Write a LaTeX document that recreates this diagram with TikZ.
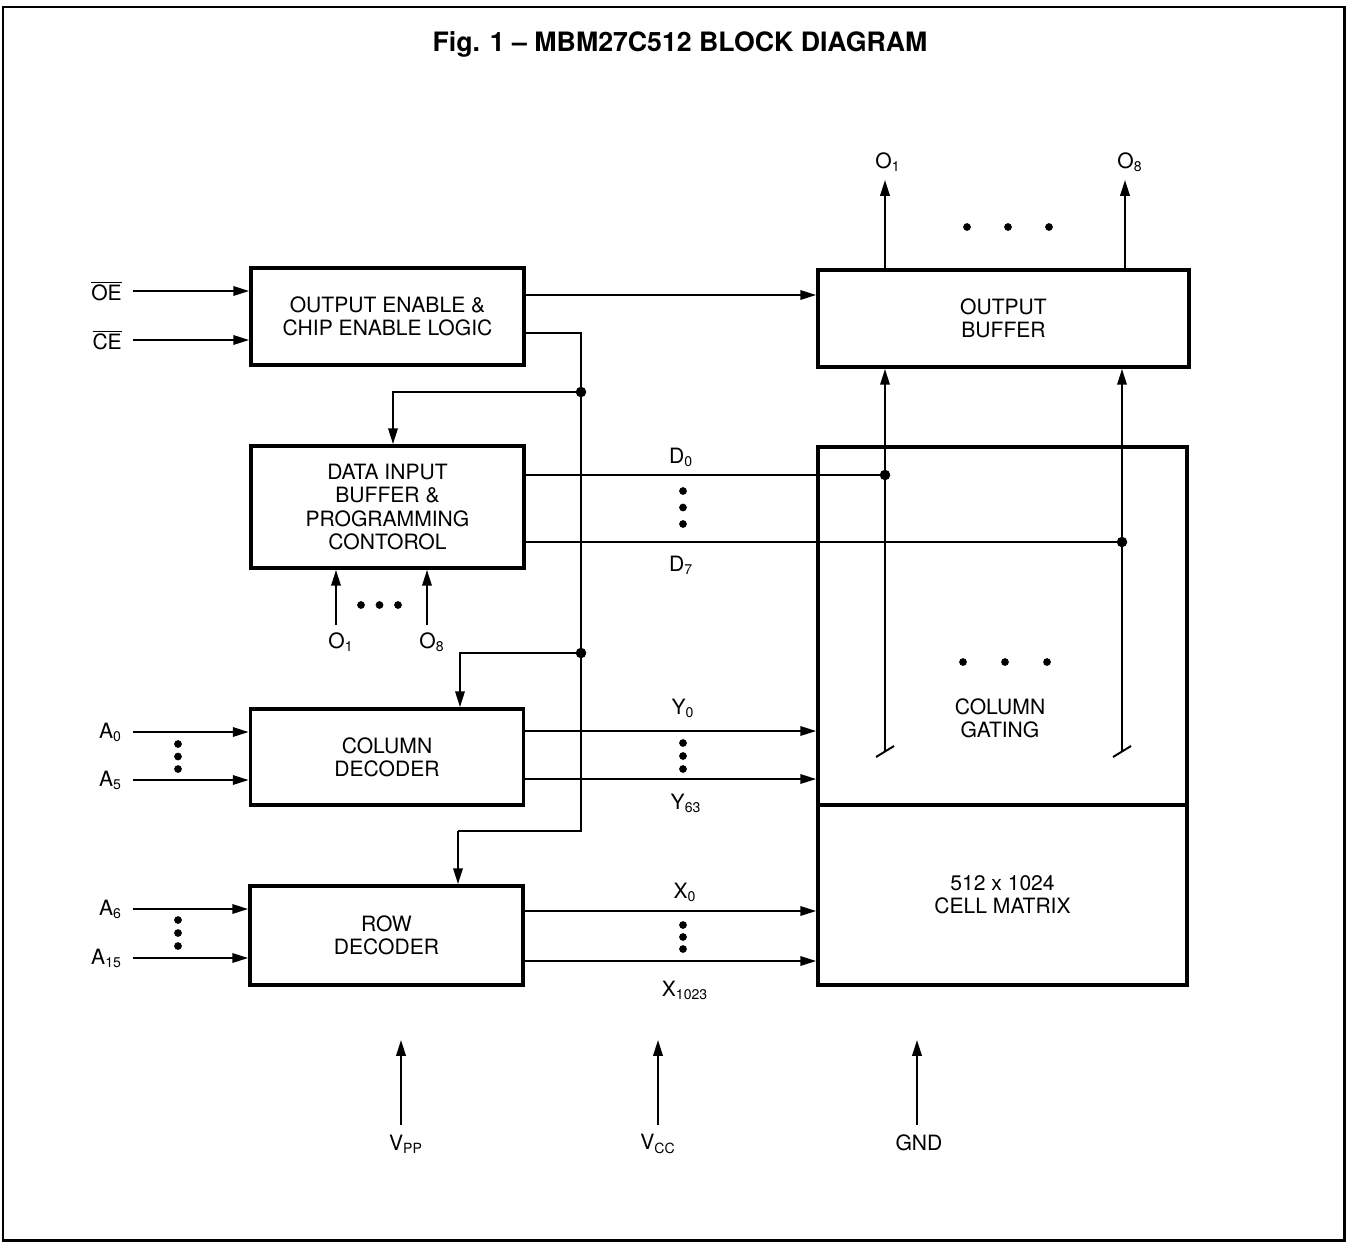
\documentclass[tikz,border=0pt]{standalone}
\usepackage{fontspec}
\setmainfont{TeX Gyre Heros}
\usetikzlibrary{arrows.meta, positioning, calc}
\newcommand{\sub}[1]{\textsubscript{#1}}
\newcommand{\ovl}[1]{$\overline{\hbox{#1}}$}

\begin{document}
\begin{tikzpicture}[x=0.02cm, y=-0.02cm,
    font=\fontsize{12}{13.2}\selectfont,
    block/.style={draw, line width=2.2pt, minimum width=5.46cm, align=center},
    wire/.style={line width=1.1pt},
    arr/.style={wire, -{Triangle[length=9pt, width=5.4pt]}},
    lbl/.style={align=center}]
  \useasboundingbox (0,0) rectangle (1350,1245);
  \draw[line width=1.7pt] (3,7) rectangle (1344,1240);
  \node[font=\fontsize{15.2}{18}\selectfont\bfseries] (title) at (680,44)
    {Fig. 1 \textendash{} MBM27C512 BLOCK DIAGRAM};

  \node[block, minimum height=1.94cm] (oe) at (387.5,316.5) {OUTPUT ENABLE \&\\CHIP ENABLE LOGIC};
  \node[block, minimum height=2.44cm] (din) at (387.5,507) {DATA INPUT\\BUFFER \&\\PROGRAMMING\\CONTOROL};
  \node[block, minimum height=1.92cm] (cdec) at (387,757) {COLUMN\\DECODER};
  \node[block, minimum height=1.98cm] (rdec) at (386.5,935.5) {ROW\\DECODER};
  \node[block, minimum width=7.42cm, minimum height=1.94cm] (obuf) at (1003.5,318.5) {OUTPUT\\BUFFER};
  \node[block, minimum width=7.38cm, minimum height=7.16cm] (cgate) at (1002.5,626) {};
  \node[block, minimum width=7.38cm, minimum height=3.6cm] (cmat) at (1002.5,895) {512 x 1024\\CELL MATRIX};
  \node[lbl] (cgtxt) at (1000,718) {COLUMN\\GATING};

  \foreach \nm/\lab/\yy/\blk in {oein/\ovl{OE}/291/oe, cein/\ovl{CE}/340/oe,
      a0/A\sub{0}/732/cdec, a5/A\sub{5}/780/cdec, a6/A\sub{6}/909/rdec, a15/A\sub{15}/958/rdec}{%
    \coordinate (\nm) at (133,\yy);
    \node[left=0.1cm of \nm] (l\nm) {\lab};
    \draw[arr] (\nm) -- (\nm -| \blk.west);}

  \foreach \nm/\yy/\blk in {y0/731/cdec, y63/779/cdec, x0/911/rdec, x1023/961/rdec}{%
    \coordinate (\nm) at (\blk.east |- 0,\yy);
    \draw[arr] (\nm) -- (\nm -| cgate.west);}

  \foreach \nm/\lab/\xx/\yy in {ly0/Y\sub{0}/683/708, ly63/Y\sub{63}/686/803,
      lx0/X\sub{0}/685/892, lx1023/X\sub{1023}/685/990, ld0/D\sub{0}/681/457, ld7/D\sub{7}/681/565,
      lq1/O\sub{1}/888/162, lq8/O\sub{8}/1130/162, lp1/O\sub{1}/341/642, lp8/O\sub{8}/432/642,
      lvpp/V\sub{PP}/406/1144, lvcc/V\sub{CC}/658/1144, lgnd/GND/919/1143}
    \node (\nm) at (\xx,\yy) {\lab};

  \foreach \xx/\yy/\dy in {683/491/16.5, 683/743/13, 683/925/12, 178/744/12.5, 178/920/13}
    \foreach \k in {0,1,2}
      \fill (\xx,\yy+\dy*\k) circle[radius=2.2pt];
  \foreach \xx/\yy/\dx in {967/227/41, 963/662/42, 361/605/18.5}
    \foreach \k in {0,1,2}
      \fill (\xx+\dx*\k,\yy) circle[radius=2.2pt];

  \coordinate (oeo) at (oe.east |- 0,295);
  \draw[arr] (oeo) -- (oeo -| obuf.west);

  \coordinate (ceo) at (oe.east |- 0,333);
  \coordinate (j1) at (581,392);
  \coordinate (j2) at (581,653);
  \coordinate (dbend) at (393,392);
  \coordinate (cbend) at (460,653);
  \coordinate (rbend) at (458,831);
  \draw[wire] (ceo) -| (j1) -- (j2) |- (rbend);
  \draw[arr] (j1) -- (dbend) -- (dbend |- din.north);
  \draw[arr] (j2) -- (cbend) -- (cbend |- cdec.north);
  \draw[arr] (rbend) -- (rbend |- rdec.north);
  \fill (j1) circle[radius=3pt] (j2) circle[radius=3pt];

  \coordinate (jd0) at (885,475);
  \coordinate (jd7) at (1122,542);
  \draw[wire] (din.east |- jd0) -- (jd0);
  \draw[wire] (din.east |- jd7) -- (jd7);
  \fill (jd0) circle[radius=3pt] (jd7) circle[radius=3pt];

  \coordinate (t1) at (885,751);
  \coordinate (t8) at (1122,751);
  \foreach \t in {t1,t8}{%
    \draw[arr] (\t) -- (\t |- obuf.south);
    \draw[wire] ($(\t)+(-9,6)$) -- ($(\t)+(9,-5)$);}

  \coordinate (q1) at (885,180);
  \coordinate (q8) at (1125,180);
  \draw[arr] (q1 |- obuf.north) -- (q1);
  \draw[arr] (q8 |- obuf.north) -- (q8);

  \coordinate (p1) at (336,625);
  \coordinate (p8) at (427,625);
  \draw[arr] (p1) -- (p1 |- din.south);
  \draw[arr] (p8) -- (p8 |- din.south);

  \coordinate (vpp) at (401,1125);
  \coordinate (vcc) at (658,1125);
  \coordinate (gnd) at (917,1125);
  \foreach \s in {vpp,vcc,gnd}
    \draw[arr] (\s) -- ($(\s)+(0,-85)$);
\end{tikzpicture}
\end{document}
